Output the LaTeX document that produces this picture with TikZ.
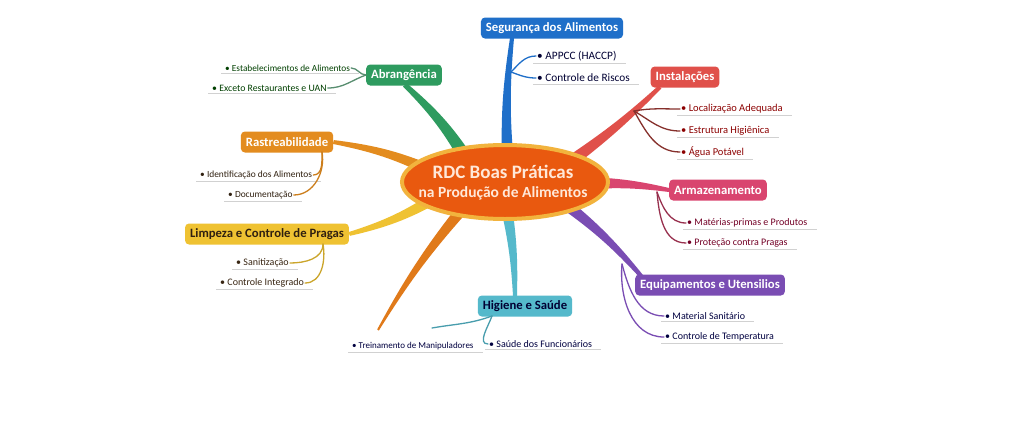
\documentclass[tikz,border=0pt]{standalone}
\usepackage{fontspec}
\setmainfont{Carlito}
\usetikzlibrary{calc,shapes.geometric,backgrounds}
\definecolor{segc}{HTML}{1F6FC9}
\definecolor{insc}{HTML}{E0504A}
\definecolor{armc}{HTML}{D9456F}
\definecolor{equc}{HTML}{7A4DB3}
\definecolor{higc}{HTML}{55B9CB}
\definecolor{limc}{HTML}{EFC232}
\definecolor{rasc}{HTML}{E38C1F}
\definecolor{abrc}{HTML}{2E9B5F}
\definecolor{freec}{HTML}{E07A1A}
\definecolor{cfill}{HTML}{E9590F}
\definecolor{cring}{HTML}{F2B33D}
\definecolor{ctext}{HTML}{FFE8D8}
\newcommand\taper[6]{\fill[#1] ($(#2)!#4!90:(#3)$) to[bend left=#6] ($(#3)!#5!-90:(#2)$) -- ($(#3)!#5!90:(#2)$) to[bend right=#6] ($(#2)!#4!-90:(#3)$) -- cycle;}
\newcommand\uline[1]{\draw[ulin] ($(#1.south west)+(-3,0)$) -- ($(#1.south east)+(8,0)$);}
\tikzset{
 box/.style={rounded corners=4pt, inner xsep=5pt, inner ysep=0pt, minimum height=21pt, font=\bfseries\fontsize{12.7}{14}\selectfont, text=white},
 leaf/.style={anchor=west, inner xsep=1pt, inner ysep=2pt, font=\fontsize{10}{12}\selectfont},
 conn/.style={line width=1.3pt, line cap=round},
 ulin/.style={draw=black!18, line width=0.6pt},
 ctr/.style={text=ctext, font=\bfseries, inner sep=0pt}
}
\begin{document}
\begin{tikzpicture}[x=1pt,y=1pt]
\useasboundingbox (0,0) rectangle (1024,-434);
% center
\node[ellipse, fill=cfill, draw=cring, line width=4pt, minimum width=206pt, minimum height=74pt, inner sep=0pt] (c) at (505,-182) {};
\node[ctr, font=\bfseries\fontsize{19}{22}\selectfont] (c1) at (503,-172) {RDC Boas Práticas};
\node[ctr, font=\bfseries\fontsize{15.5}{20}\selectfont] (c2) at (503,-193) {na Produção de Alimentos};
% boxes
\node[box, fill=segc] (seg) at (552,-28) {Segurança dos Alimentos};
\node[box, fill=insc] (ins) at (685,-77) {Instalações};
\node[box, fill=armc] (arm) at (718,-190) {Armazenamento};
\node[box, fill=equc] (equ) at (710,-285) {Equipamentos e Utensilios};
\node[box, fill=higc, text=black!80!blue] (hig) at (525,-306) {Higiene e Saúde};
\node[box, fill=limc, text=black!75!brown] (lim) at (267,-234) {Limpeza e Controle de Pragas};
\node[box, fill=rasc] (ras) at (287,-142) {Rastreabilidade};
\node[box, fill=abrc] (abr) at (404,-75) {Abrangência};
% leaves
\node[leaf, text=black!80!blue, font=\fontsize{11.3}{13}\selectfont] (s1) at (536,-56) {• APPCC (HACCP)};
\node[leaf, text=black!80!blue, font=\fontsize{11.3}{13}\selectfont] (s2) at (536,-78) {• Controle de Riscos};
\node[leaf, text=black!45!red, font=\fontsize{10.5}{12}\selectfont] (i1) at (680,-109) {• Localização Adequada};
\node[leaf, text=black!45!red, font=\fontsize{10.5}{12}\selectfont] (i2) at (680,-131) {• Estrutura Higiênica};
\node[leaf, text=black!45!red, font=\fontsize{10.5}{12}\selectfont] (i3) at (680,-152) {• Água Potável};
\node[leaf, text=black!40!purple] (a1) at (686,-223) {• Matérias-primas e Produtos};
\node[leaf, text=black!40!purple] (a2) at (686,-243) {• Proteção contra Pragas};
\node[leaf, text=black!75!blue] (e1) at (664,-316) {• Material Sanitário};
\node[leaf, text=black!75!blue] (e2) at (664,-337) {• Controle de Temperatura};
\node[leaf, text=black!75!blue, font=\fontsize{9}{11}\selectfont] (h1) at (351,-346) {• Treinamento de Manipuladores};
\node[leaf, text=black!75!blue] (h2) at (488,-344) {• Saúde dos Funcionários};
\node[leaf, text=black!70!brown] (l1) at (235,-263) {• Sanitização};
\node[leaf, text=black!70!brown] (l2) at (219,-283) {• Controle Integrado};
\node[leaf, text=black!75!brown, font=\fontsize{9.4}{11}\selectfont] (r1) at (199,-175) {• Identificação dos Alimentos};
\node[leaf, text=black!75!brown, font=\fontsize{9.4}{11}\selectfont] (r2) at (227,-195) {• Documentação};
\node[leaf, text=black!75!green, font=\fontsize{9.3}{11}\selectfont] (b1) at (224,-68) {• Estabelecimentos de Alimentos};
\node[leaf, text=black!75!green, font=\fontsize{9.8}{11}\selectfont] (b2) at (211,-88) {• Exceto Restaurantes e UAN};
\foreach \n in {s1,s2,i1,i2,i3,a1,a2,e1,e2,h1,h2,l1,l2,r1,r2,b1,b2} {\uline{\n}}
% branch coordinates
\coordinate (bS) at (508,-165); \coordinate (segE) at (512,-38);
\coordinate (iS) at (570,-162); \coordinate (insE) at (660,-87);
\coordinate (pS) at (590,-183);
\coordinate (eS) at (560,-200); \coordinate (equE) at (642,-277);
\coordinate (tS) at (505,-200); \coordinate (higE) at (515,-296);
\coordinate (oS) at (470,-200); \coordinate (oE) at (378,-330);
\coordinate (yS) at (440,-195);
\coordinate (rS) at (440,-175);
\coordinate (gS) at (470,-165); \coordinate (abrE) at (405,-85);
\coordinate (sj) at (511,-72);
\coordinate (ij) at (634,-111);
\coordinate (aj) at (657,-192);
\coordinate (ej) at (622,-264);
\coordinate (hj) at (492,-316); \coordinate (hk) at (432,-328);
\coordinate (lj) at (323,-244);
\coordinate (rj) at (322,-152);
\begin{scope}[on background layer]
\fill[white] (0,0) rectangle (1024,-434);
\taper{segc}{bS}{segE}{6pt}{2pt}{5}
\taper{insc}{iS}{insE}{6pt}{2pt}{-4}
\taper{armc}{pS}{arm.west}{6pt}{2pt}{5}
\taper{equc}{eS}{equE}{6pt}{2pt}{6}
\taper{higc}{tS}{higE}{6pt}{2pt}{5}
\taper{freec}{oS}{oE}{6pt}{1pt}{-5}
\taper{limc}{yS}{lim.east}{6pt}{2pt}{8}
\taper{rasc}{rS}{ras.east}{6pt}{2pt}{-8}
\taper{abrc}{gS}{abrE}{7pt}{2.5pt}{-8}
\end{scope}
% leaf connectors
\draw[conn, segc] (sj) to[out=45,in=180] (s1.west);
\draw[conn, segc] (sj) to[out=-20,in=180] (s2.west);
\draw[conn, insc!60!black] (ij) to[out=10,in=180] (i1.west);
\draw[conn, insc!60!black] (ij) to[out=-30,in=180] (i2.west);
\draw[conn, insc!60!black] (ij) to[out=-60,in=180] (i3.west);
\draw[conn, armc!70!black] (aj) to[out=-70,in=180] (a1.west);
\draw[conn, armc!70!black] (aj) to[out=-85,in=180] (a2.west);
\draw[conn, equc] (ej) to[out=-75,in=180] (e1.west);
\draw[conn, equc] (ej) to[out=-95,in=180] (e2.west);
\draw[conn, higc!85!black] (hj) to[out=200,in=10] (hk);
\draw[conn, higc!85!black] (hj) to[out=250,in=180] (h2.west);
\draw[conn, limc!85!black] (lj) to[out=-90,in=0] (l1.east);
\draw[conn, limc!85!black] (lj) to[out=-80,in=0] (l2.east);
\draw[conn, rasc!90!black] (rj) to[out=-90,in=0] (r1.east);
\draw[conn, rasc!90!black] (rj) to[out=-80,in=0] (r2.east);
\draw[conn, abrc!50!gray] (abr.west) to[out=180,in=0] (b1.east);
\draw[conn, abrc!50!gray] (abr.west) to[out=200,in=0] (b2.east);
\end{tikzpicture}
\end{document}
